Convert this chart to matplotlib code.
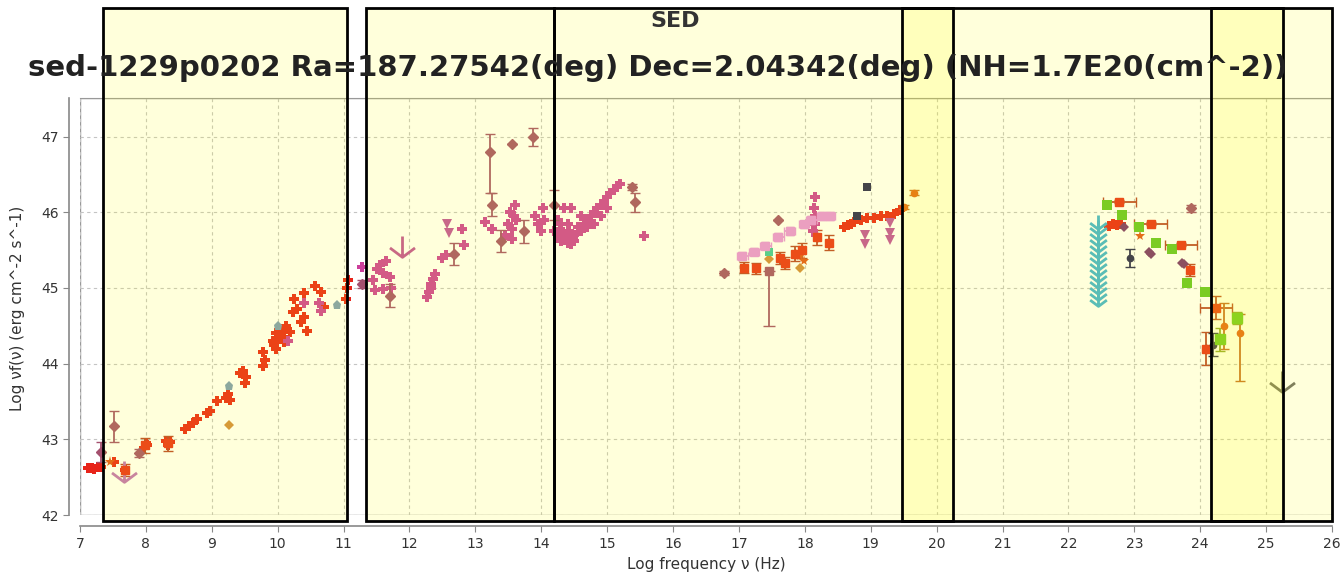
import matplotlib
matplotlib.use("Agg")
import matplotlib.pyplot as plt
import numpy as np
from matplotlib.patches import Rectangle
from matplotlib.path import Path

# ---- measurements (log nu [Hz], log nu f_nu [erg cm^-2 s^-1]) ----
RED_X = [7.12, 7.18, 7.22, 7.27, 7.32, 7.52, 7.68, 7.97, 8.0, 8.02, 8.3, 8.34, 8.36,
         8.6, 8.65, 8.72, 8.77, 8.93, 8.97, 9.08, 9.22, 9.25, 9.28, 9.43, 9.48, 9.52,
         9.5, 9.77, 9.8, 9.78, 9.93, 9.98, 10.03, 10.08, 10.13, 10.18, 10.23, 10.3,
         10.4, 10.4, 10.45, 10.57, 10.65, 10.7, 11.03, 11.05, 11.07,
         9.95, 10.0, 10.05, 10.1, 9.98, 10.35, 10.25,
         18.6, 18.65, 18.7, 18.75, 18.85, 18.95, 19.05, 19.15, 19.25, 19.35, 19.45,
         22.62, 22.68, 22.74, 22.8]
RED_Y = [42.62, 42.62, 42.61, 42.63, 42.64, 42.70, 42.60, 42.88, 42.95, 42.92, 42.98,
         42.92, 42.96, 43.13, 43.18, 43.22, 43.27, 43.35, 43.37, 43.5, 43.55, 43.6,
         43.52, 43.88, 43.9, 43.82, 43.75, 44.15, 44.05, 43.97, 44.3, 44.4, 44.45,
         44.35, 44.5, 44.42, 44.68, 44.72, 44.93, 44.62, 44.43, 45.02, 44.95, 44.75,
         44.85, 45.0, 45.1,
         44.25, 44.33, 44.38, 44.28, 44.2, 44.55, 44.85,
         45.8, 45.83, 45.85, 45.87, 45.9, 45.92, 45.93, 45.95, 45.95, 45.98, 46.03,
         45.82, 45.84, 45.83, 45.85]

# red points with error bars (x, y, yerr, xerr)
RED_ERR_X = [7.68, 7.99, 8.34, 17.08, 17.26, 17.62, 17.7, 17.85, 17.95, 18.18, 18.37,
             22.77, 23.25, 23.71, 24.24, 24.09, 23.84]
RED_ERR_Y = [42.6, 42.92, 42.95, 45.27, 45.26, 45.4, 45.33, 45.45, 45.5, 45.67, 45.6,
             46.14, 45.85, 45.57, 44.74, 44.2, 45.24]
RED_ERR_DY = [0.08, 0.1, 0.1, 0.07, 0.07, 0.08, 0.08, 0.1, 0.1, 0.1, 0.1,
              0.02, 0.02, 0.02, 0.15, 0.22, 0.08]
RED_ERR_DX = [0, 0, 0, 0, 0, 0, 0, 0, 0, 0, 0, 0.25, 0.25, 0.24, 0.25, 0, 0]

MAG_X = [11.28, 11.45, 11.5, 11.55, 11.6, 11.65, 11.7, 11.47, 11.6, 11.72,
         12.27, 12.3, 12.33, 12.36, 12.38, 12.32, 12.5, 12.55, 12.8, 12.82,
         13.15, 13.25, 13.45, 13.5, 13.52, 13.55, 13.58, 13.6, 13.55, 13.62,
         13.9, 13.95, 14.0, 14.02, 14.04,
         14.2, 14.25, 14.3, 14.35, 14.4, 14.45, 14.5, 14.4, 14.55, 14.6, 14.35, 14.45,
         14.3, 14.5, 14.6, 14.65, 14.7, 14.75, 14.8, 14.85, 14.9, 14.95, 15.0, 15.05,
         15.1, 15.15, 15.2, 14.7, 14.8, 14.9, 15.0, 15.56,
         14.28, 14.33, 14.38, 14.42, 14.25, 14.48,
         18.13, 18.15, 18.16, 18.14, 18.15, 18.17, 10.4, 10.62, 10.65, 10.15]
MAG_Y = [45.28, 45.1, 45.25, 45.3, 45.2, 45.35, 45.15, 44.97, 44.98, 45.0,
         44.88, 44.95, 45.05, 45.12, 45.18, 45.0, 45.4, 45.43, 45.78, 45.57,
         45.87, 45.78, 45.7, 45.85, 46.0, 45.78, 45.95, 46.1, 45.65, 45.9,
         45.95, 45.85, 45.75, 46.05, 45.9,
         45.75, 45.7, 45.85, 45.65, 45.6, 45.58, 45.7, 45.85, 45.8, 45.95, 46.05, 46.06,
         45.62, 45.62, 45.75, 45.85, 45.9, 45.95, 46.0, 46.05, 46.1, 46.15, 46.2, 46.25,
         46.3, 46.35, 46.38, 45.8, 45.85, 45.95, 46.05, 45.68,
         45.78, 45.72, 45.68, 45.75, 45.9, 45.66,
         45.75, 45.85, 45.95, 46.05, 46.2, 45.7, 44.8, 44.8, 44.7, 44.3]

MAUVE_X = [7.32, 7.52, 7.9, 11.28, 11.7, 12.68, 13.22, 13.25, 13.39, 13.87, 13.74,
           14.2, 15.37, 15.42, 16.77, 23.86, 13.56, 17.6]
MAUVE_Y = [42.83, 43.17, 42.82, 45.05, 44.9, 45.45, 46.8, 46.1, 45.62, 47.0, 45.75,
           46.1, 46.34, 46.13, 45.2, 46.05, 46.9, 45.9]
MAUVE_DY_LO = [0.13, 0.2, 0.05, 0.05, 0.15, 0.15, 0.55, 0.15, 0.15, 0.12, 0.15,
               0.2, 0.04, 0.12, 0.03, 0.04, 0.0, 0.0]
MAUVE_DY_HI = [0.13, 0.2, 0.05, 0.05, 0.15, 0.15, 0.23, 0.15, 0.15, 0.12, 0.15,
               0.2, 0.04, 0.12, 0.03, 0.04, 0.0, 0.0]

# mauve point with a long lower error bar
MAUVE_LONG_X = [17.46]
MAUVE_LONG_Y = [45.22]
MAUVE_LONG_LO = [0.72]

PINK_X = [17.05, 17.23, 17.4, 17.6, 17.77, 17.99, 18.1, 18.26, 18.38]
PINK_Y = [45.42, 45.48, 45.56, 45.67, 45.75, 45.84, 45.9, 45.95, 45.95]

ORANGE_X = [7.45, 17.93, 17.98, 23.09, 23.33]
ORANGE_Y = [42.7, 45.42, 45.36, 45.68, 45.58]
ORANGE_ERR_X = [19.5, 19.66, 24.36, 24.6]
ORANGE_ERR_Y = [46.07, 46.26, 44.5, 44.4]
ORANGE_ERR_LO = [0.03, 0.03, 0.3, 0.63]
ORANGE_ERR_HI = [0.03, 0.03, 0.3, 0.25]

TAN_X = [9.26, 17.93, 17.46]
TAN_Y = [43.19, 45.27, 45.38]

TEAL_X = [17.46]
TEAL_Y = [45.47]
STEEL_X = [9.26, 10.9, 10.0]
STEEL_Y = [43.7, 44.77, 44.5]

NAVY_X = [18.94, 18.79]
NAVY_Y = [46.33, 45.95]
NAVY_ERR_X = [22.93, 24.2]
NAVY_ERR_Y = [45.4, 44.25]
NAVY_ERR_DY = [0.12, 0.15]

PURPLE_X = [22.85, 23.22, 23.25, 23.75, 23.72]
PURPLE_Y = [45.81, 45.47, 45.45, 45.31, 45.33]

GREEN_X = [22.58, 22.81, 23.07, 23.33, 23.57, 23.8, 24.07]
GREEN_Y = [46.09, 45.97, 45.81, 45.6, 45.51, 45.06, 44.94]
GREEN_ERR_X = [24.3, 24.56]
GREEN_ERR_Y = [44.32, 44.6]
GREEN_ERR_DY = [0.15, 0.08]

# upper limits
CYAN_UL_X = [22.45] * 14
CYAN_UL_Y = [45.97, 45.9, 45.82, 45.74, 45.66, 45.58, 45.5, 45.42, 45.34, 45.26,
             45.18, 45.1, 45.02, 44.94]
MAG_UL_X = [18.91, 18.91, 19.29, 19.29, 19.29, 12.57, 12.6]
MAG_UL_Y = [45.7, 45.58, 45.86, 45.73, 45.64, 45.85, 45.72]
BIG_UL_X = [11.89, 7.67, 25.24]
BIG_UL_Y = [45.68, 42.72, 43.9]
BIG_UL_COLORS = ["#c0509a", "#c070b8", "#6a6a6a"]

# energy-band highlight boxes (log nu edges)
BAND_LO = [7.35, 11.34, 14.19, 19.47, 24.16]
BAND_HI = [11.05, 14.19, 20.25, 25.25, 26.0]

XTICKS = list(range(7, 27))
YTICKS = list(range(42, 48))

fig = plt.figure(figsize=(13.42, 5.78), dpi=100)
ax = fig.add_axes([80 / 1342, 1 - 515 / 578, 1252 / 1342, 417 / 578])
ax.set_xlim(7, 26)
ax.set_ylim(42, 47.51)

ax.set_xticks(XTICKS)
ax.set_yticks(YTICKS)
ax.grid(True, color="#c4c4c4", linestyle=(0, (3, 3)), linewidth=0.8)
ax.set_axisbelow(True)
for side in ["top", "right"]:
    ax.spines[side].set_color("#999999")
for side in ["left", "bottom"]:
    ax.spines[side].set_position(("outward", 8))
    ax.spines[side].set_color("#888888")
    ax.spines[side].set_linewidth(1.2)
ax.add_patch(Rectangle((0, 0), 1, 1, transform=ax.transAxes, fill=False,
                       edgecolor="#999999", lw=1.0, zorder=0.5))
ax.tick_params(direction="out", length=4, color="#888888", labelsize=10,
               labelcolor="#333333")

arrow = Path([(0, 0), (0, -1), (-0.6, -0.55), (0, -1), (0.6, -0.55)],
             [Path.MOVETO, Path.LINETO, Path.MOVETO, Path.LINETO, Path.LINETO])

ax.plot(RED_X, RED_Y, "P", color="#e8241a", ms=7.5, mew=0, zorder=3)
ax.errorbar(RED_ERR_X, RED_ERR_Y, yerr=RED_ERR_DY, xerr=RED_ERR_DX, fmt="s",
            color="#e8301c", ecolor="#b8442c", ms=5.5, capsize=3.5, elinewidth=1.3,
            zorder=3)
ax.plot(MAG_X, MAG_Y, "P", color="#cc3f9b", ms=7.5, mew=0, zorder=3)
ax.errorbar(MAUVE_X, MAUVE_Y, yerr=[MAUVE_DY_LO, MAUVE_DY_HI], fmt="D",
            color="#a4506e", ms=5, capsize=3.5, elinewidth=1.3, zorder=3)
ax.errorbar(MAUVE_LONG_X, MAUVE_LONG_Y, yerr=[MAUVE_LONG_LO, [0.0]], fmt="s",
            color="#a4506e", ms=5.5, capsize=4, elinewidth=1.3, zorder=3)
ax.errorbar(PINK_X, PINK_Y, xerr=0.08, yerr=0.05, fmt="s", color="#e890e0",
            ms=6, capsize=3, elinewidth=1.3, zorder=3)
ax.plot(ORANGE_X, ORANGE_Y, "*", color="#e0561e", ms=8, mew=0, zorder=3)
ax.errorbar(ORANGE_ERR_X, ORANGE_ERR_Y, yerr=[ORANGE_ERR_LO, ORANGE_ERR_HI],
            fmt="o", color="#e0561e", ecolor="#c0602c", ms=4.5, capsize=3.5,
            elinewidth=1.3, zorder=3)
ax.plot(TAN_X, TAN_Y, "D", color="#d08a40", ms=5, mew=0, zorder=3)
ax.plot(TEAL_X, TEAL_Y, "s", color="#40c8a0", ms=6, mew=0, zorder=3)
ax.plot(STEEL_X, STEEL_Y, "p", color="#7a9ab8", ms=6.5, mew=0, zorder=3)
ax.plot(NAVY_X, NAVY_Y, "s", color="#262656", ms=6, mew=0, zorder=3)
ax.errorbar(NAVY_ERR_X, NAVY_ERR_Y, yerr=NAVY_ERR_DY, fmt="o", color="#262656",
            ms=4.5, capsize=3.5, elinewidth=1.3, zorder=3)
ax.plot(PURPLE_X, PURPLE_Y, "D", color="#7a3470", ms=5.5, mew=0, zorder=3)
ax.plot(GREEN_X, GREEN_Y, "s", color="#66c42a", ms=6.5, mew=0, zorder=3)
ax.errorbar(GREEN_ERR_X, GREEN_ERR_Y, yerr=GREEN_ERR_DY, fmt="s", color="#66c42a",
            ecolor="#88a030", ms=6.5, capsize=3.5, elinewidth=1.3, zorder=3)

ax.plot(CYAN_UL_X, CYAN_UL_Y, ls="none", marker=arrow, ms=20, mfc="none",
        mec="#3fb3d4", mew=2.0, zorder=3)
ax.plot(MAG_UL_X, MAG_UL_Y, "v", color="#c050a0", ms=7, mew=0, zorder=3)
for x, y, c in zip(BIG_UL_X, BIG_UL_Y, BIG_UL_COLORS):
    ax.plot([x], [y], ls="none", marker=arrow, ms=30, mfc="none", mec=c,
            mew=2.0, zorder=3)

# translucent band boxes reaching up over the titles
tr = ax.get_xaxis_transform()
for lo, hi in zip(BAND_LO, BAND_HI):
    ax.add_patch(Rectangle((lo, -0.0144), hi - lo, 1.23, transform=tr,
                           facecolor="#ffff00", alpha=0.14, edgecolor="none",
                           clip_on=False, zorder=5))
    ax.add_patch(Rectangle((lo, -0.0144), hi - lo, 1.23, transform=tr,
                           fill=False, edgecolor="black", lw=2,
                           clip_on=False, zorder=6))

fig.text(675 / 1342, 1 - 21 / 578, "SED", ha="center", va="center",
         fontsize=16, fontweight="bold", color="#333333")
fig.text(658 / 1342, 1 - 68 / 578,
         "sed-1229p0202 Ra=187.27542(deg) Dec=2.04342(deg) (NH=1.7E20(cm^-2))",
         ha="center", va="center", fontsize=21, fontweight="bold", color="#222222")
fig.text(706 / 1342, 1 - 565 / 578, "Log frequency \u03bd (Hz)", ha="center",
         va="center", fontsize=11, color="#333333")
fig.text(18 / 1342, 1 - 308 / 578, "Log \u03bdf(\u03bd) (erg cm^-2 s^-1)",
         ha="center", va="center", rotation=90, fontsize=11, color="#333333")

fig.savefig("out.png", dpi=100)
